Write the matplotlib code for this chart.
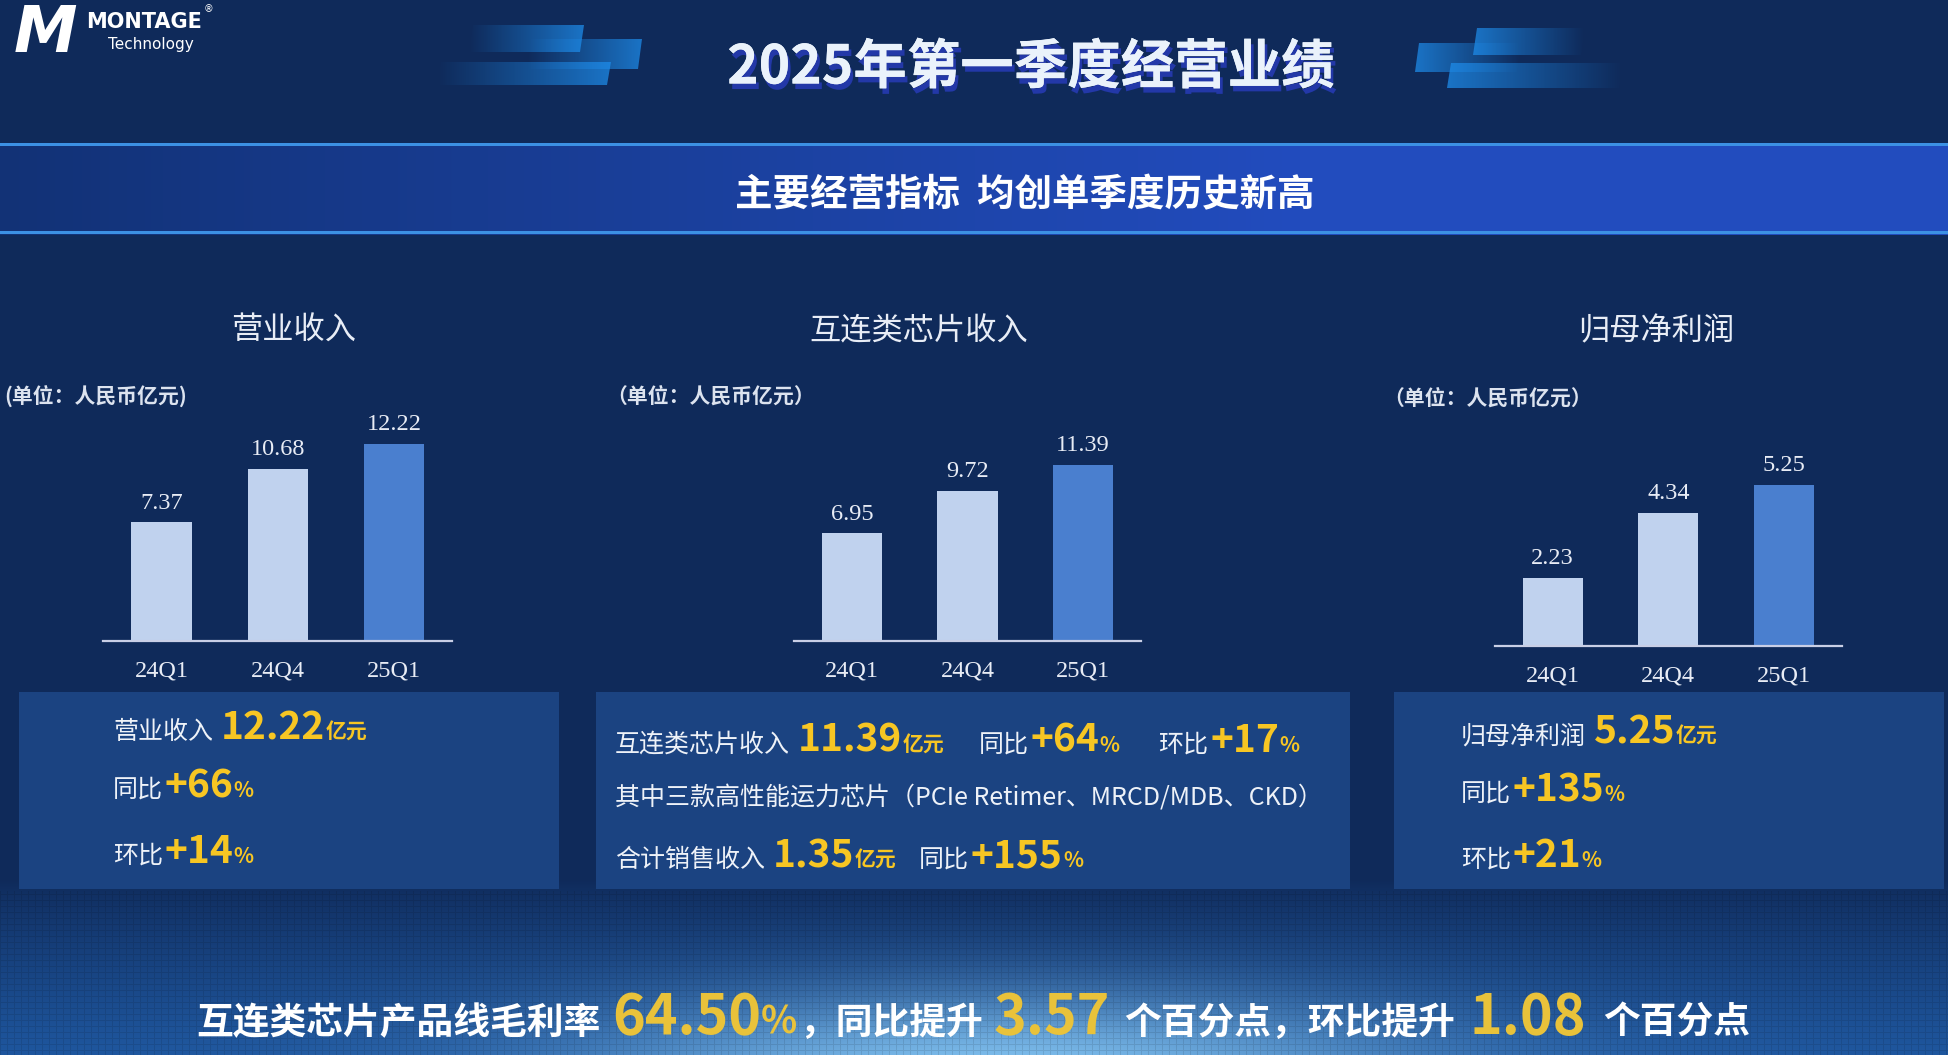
import numpy as np
import matplotlib.pyplot as plt
import matplotlib.patheffects as pe
from matplotlib.patches import Rectangle, Polygon

W, H = 1948, 1055
plt.rcParams['font.family'] = ['Noto Sans CJK SC', 'DejaVu Sans']

# data
quarters = ['24Q1', '24Q4', '25Q1']
revenue = [7.37, 10.68, 12.22]
interconnect = [6.95, 9.72, 11.39]
net_profit = [2.23, 4.34, 5.25]
panel_titles = ['营业收入', '互连类芯片收入', '归母净利润']

WHITE = '#eef2f8'
YELLOW = '#f7c623'
YELLOW2 = '#e9c23a'
LIGHT_BAR = '#c0d2ee'
DARK_BAR = '#4a7fcf'

fig = plt.figure(figsize=(W / 100, H / 100), dpi=100)
bg = fig.add_axes([0, 0, 1, 1])
bg.axis('off')

# background: dark navy, lighter glowing band at the bottom
yy, xx = np.mgrid[0:H, 0:W]
base = np.array([15, 42, 90]) / 255
img = np.ones((H, W, 3)) * base
t = np.clip((yy - 880) / 175, 0, 1)[..., None]
img += (np.array([30, 86, 158]) / 255 - base) * t ** 0.8
r = np.hypot((xx - 1000) / 420, (yy - 1080) / 85)
glow = np.exp(-r ** 2)[..., None]
img += (np.array([150, 215, 255]) / 255 - img) * glow * 0.85
grid = ((xx % 7 == 0) | (yy % 6 == 0)) & (yy > 890)
img[grid] *= 0.9

# banner stripe
band = (yy >= 143) & (yy <= 234)
gx = np.clip(xx / 1300, 0, 1)[..., None]
band_col = np.array([18, 50, 118]) / 255 * (1 - gx) + np.array([34, 76, 190]) / 255 * gx
img = np.where(band[..., None], band_col, img)
for y0 in (143, 231):
    img[y0:y0 + 3] = np.array([60, 145, 228]) / 255
img = np.clip(img, 0, 1)
bg.imshow(img, extent=(0, W, H, 0), aspect='auto', zorder=0, interpolation='bilinear')


def slab(x0, x1, y0, y1, slant, fade_left):
    poly = Polygon([(x0 + slant, y0), (x1 + slant, y0), (x1, y1), (x0, y1)],
                   closed=True, facecolor='none', edgecolor='none')
    bg.add_patch(poly)
    g = np.linspace(0, 1, 120) if fade_left else np.linspace(1, 0, 120)
    rgba = np.zeros((1, 120, 4))
    rgba[..., 0], rgba[..., 1], rgba[..., 2] = 0.12, 0.55, 0.92
    rgba[..., 3] = g * 0.75
    im = bg.imshow(rgba, extent=(x0, x1 + slant, y1, y0), aspect='auto', zorder=1)
    im.set_clip_path(poly)


# header decorations
slab(469, 580, 25, 52, 4, True)
slab(527, 638, 39, 69, 4, True)
slab(437, 607, 62, 85, 4, True)
slab(1473, 1581, 28, 55, 4, False)
slab(1415, 1517, 43, 72, 4, False)
slab(1447, 1619, 63, 88, 4, False)

# info boxes
for x0, x1 in [(19, 559), (596, 1350), (1394, 1944)]:
    bg.add_patch(Rectangle((x0, 692), x1 - x0, 197, facecolor='#1b4381', edgecolor='none', zorder=1))

bg.set_xlim(0, W)
bg.set_ylim(H, 0)

# logo
bg.text(14, 34, 'M', fontsize=46, fontweight='bold', style='italic', color='white', va='center', family='DejaVu Sans')
bg.text(86, 22, 'MONTAGE', fontsize=15, fontweight='bold', color='white', va='center', family='DejaVu Sans')
bg.text(108, 45, 'Technology', fontsize=11, color='white', va='center', family='DejaVu Sans')
bg.text(204, 9, '®', fontsize=7, color='white', va='center', family='DejaVu Sans')

# titles
bg.text(1031, 68, '2025年第一季度经营业绩', fontsize=38.5, fontweight='bold', color='#eaf2fb',
        ha='center', va='center',
        path_effects=[pe.withSimplePatchShadow(offset=(2, -4), shadow_rgbFace='#2338a8', alpha=1), pe.Normal()])
bg.text(1025, 195, '主要经营指标  均创单季度历史新高', fontsize=27, fontweight='bold', color='white',
        ha='center', va='center')

for x, title in zip([294, 919, 1656], panel_titles):
    bg.text(x, 331, title, fontsize=22.5, color='#e8edf6', ha='center', va='center')

for x, y, s in [(4, 396, '(单位：人民币亿元)'), (606, 396, '（单位：人民币亿元）'), (1383, 398, '（单位：人民币亿元）')]:
    bg.text(x, y, s, fontsize=15, fontweight='bold', color='#dce3ef', va='center')

# bar panels: (left px, baseline px from top, width px, height px, ymax)
layout = [(103.4, 641, 349, 226, 14), (794, 641, 347, 216.6, 14), (1495, 646, 346.5, 215, 7)]
for (left, base_y, w, h, ymax), vals in zip(layout, [revenue, interconnect, net_profit]):
    ax = fig.add_axes([left / W, (H - base_y) / H, w / W, h / H])
    ax.patch.set_alpha(0)
    ax.bar(range(len(vals)), vals, width=0.52, color=[LIGHT_BAR, LIGHT_BAR, DARK_BAR], zorder=2)
    ax.set_xlim(-0.5, 2.5)
    ax.set_ylim(0, ymax)
    for s in ['top', 'right', 'left']:
        ax.spines[s].set_visible(False)
    ax.spines['bottom'].set_color('#c9cfe6')
    ax.spines['bottom'].set_linewidth(1.6)
    ax.set_yticks([])
    ax.set_xticks(range(len(quarters)), quarters)
    ax.tick_params(axis='x', length=0, pad=14, labelsize=17.5, labelcolor='#e8ecf5')
    for lab in ax.get_xticklabels():
        lab.set_family('Liberation Serif')
    for i, v in enumerate(vals):
        ax.annotate(f'{v:.2f}', (i, v), xytext=(0, 6), textcoords='offset points', ha='center', va='bottom',
                    fontsize=17.5, color='#e8ecf5', family='Liberation Serif', annotation_clip=False)

renderer = fig.canvas.get_renderer()


def run(x, y, parts):
    for s, size, color, weight, gap in parts:
        t = bg.text(x, y, s, fontsize=size, color=color, fontweight=weight, va='baseline', ha='left', zorder=5)
        x += t.get_window_extent(renderer).width + gap
    return x


# panel 1 box
run(113, 739, [('营业收入', 18, WHITE, 'normal', 8), ('12.22', 28, YELLOW, 'bold', 0), ('亿元', 15, YELLOW, 'bold', 0)])
run(113, 797, [('同比', 18, WHITE, 'normal', 2), ('+66', 28, YELLOW, 'bold', 0), ('%', 15, YELLOW, 'bold', 0)])
run(113, 863, [('环比', 18, WHITE, 'normal', 2), ('+14', 28, YELLOW, 'bold', 0), ('%', 15, YELLOW, 'bold', 0)])

# panel 2 box
run(615, 752, [('互连类芯片收入', 18, WHITE, 'normal', 8), ('11.39', 28, YELLOW, 'bold', 0), ('亿元', 15, YELLOW, 'bold', 0)])
run(979, 752, [('同比', 18, WHITE, 'normal', 2), ('+64', 28, YELLOW, 'bold', 0), ('%', 15, YELLOW, 'bold', 0)])
run(1158, 752, [('环比', 18, WHITE, 'normal', 2), ('+17', 28, YELLOW, 'bold', 0), ('%', 15, YELLOW, 'bold', 0)])
run(615, 805, [('其中三款高性能运力芯片（PCIe Retimer、MRCD/MDB、CKD）', 18, WHITE, 'normal', 0)])
run(615, 867, [('合计销售收入', 18, WHITE, 'normal', 8), ('1.35', 28, YELLOW, 'bold', 0), ('亿元', 15, YELLOW, 'bold', 0)])
run(919, 867, [('同比', 18, WHITE, 'normal', 2), ('+155', 28, YELLOW, 'bold', 0), ('%', 15, YELLOW, 'bold', 0)])

# panel 3 box
run(1461, 743, [('归母净利润', 18, WHITE, 'normal', 8), ('5.25', 28, YELLOW, 'bold', 0), ('亿元', 15, YELLOW, 'bold', 0)])
run(1461, 801, [('同比', 18, WHITE, 'normal', 2), ('+135', 28, YELLOW, 'bold', 0), ('%', 15, YELLOW, 'bold', 0)])
run(1461, 867, [('环比', 18, WHITE, 'normal', 2), ('+21', 28, YELLOW, 'bold', 0), ('%', 15, YELLOW, 'bold', 0)])

# bottom summary line
yb = 1034
end = run(196, yb, [('互连类芯片产品线毛利率', 26.5, 'white', 'bold', 0)])
end = run(612, yb, [('64.50', 40, YELLOW2, 'bold', 0), ('%', 27, YELLOW2, 'bold', 0)])
run(max(end + 2, 797), yb, [('，同比提升', 26.5, 'white', 'bold', 0)])
run(994, yb, [('3.57', 40, YELLOW2, 'bold', 0)])
run(1124, yb, [('个百分点，环比提升', 26.5, 'white', 'bold', 0)])
run(1470, yb, [('1.08', 40, YELLOW2, 'bold', 0)])
run(1603, yb, [('个百分点', 26.5, 'white', 'bold', 0)])

fig.savefig('out.png', dpi=100)
